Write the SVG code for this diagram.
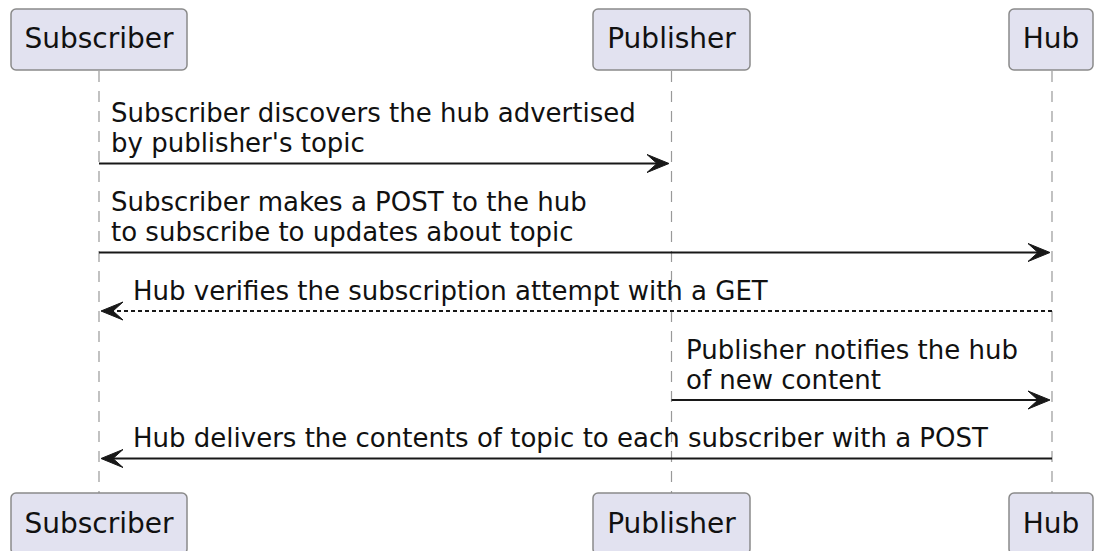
<svg xmlns="http://www.w3.org/2000/svg" width="1096" height="551" viewBox="0 0 1096 551">
<style>
.box{fill:#E2E2F0;stroke:#8a8a8a;stroke-width:1.5}
.pname{font-family:"DejaVu Sans",sans-serif;font-size:28px;fill:#111;text-anchor:middle}
.life{stroke:#999;stroke-width:1.2;stroke-dasharray:11,9;fill:none}
.msg{font-family:"DejaVu Sans",sans-serif;font-size:26px;fill:#111}
.arr{stroke:#181818;stroke-width:2;fill:none}
.dash{stroke-dasharray:4,3}
.head{fill:#181818;stroke:#181818;stroke-width:1}
</style>
<rect width="1096" height="551" fill="#ffffff"/>
<g id="lifelines">
<line class="life" x1="99" y1="71" x2="99" y2="493"/>
<line class="life" x1="671.5" y1="71" x2="671.5" y2="493"/>
<line class="life" x1="1052" y1="71" x2="1052" y2="493"/>
</g>
<g id="subscriber">
<rect class="box" x="11" y="9" width="176" height="61" rx="5"/>
<text class="pname" x="99" y="48">Subscriber</text>
<rect class="box" x="11" y="493" width="176" height="61" rx="5"/>
<text class="pname" x="99" y="533">Subscriber</text>
</g>
<g id="publisher">
<rect class="box" x="593" y="9" width="157" height="61" rx="5"/>
<text class="pname" x="671.5" y="48">Publisher</text>
<rect class="box" x="593" y="493" width="157" height="61" rx="5"/>
<text class="pname" x="671.5" y="533">Publisher</text>
</g>
<g id="hub">
<rect class="box" x="1009" y="9" width="84" height="61" rx="5"/>
<text class="pname" x="1051" y="48">Hub</text>
<rect class="box" x="1009" y="493" width="84" height="61" rx="5"/>
<text class="pname" x="1051" y="533">Hub</text>
</g>
<g id="connectors">
<line class="arr" x1="99" y1="163.5" x2="664" y2="163.5"/>
<polygon class="head" points="647,154.5 669,163.5 647,172.5 657,163.5"/>
<line class="arr" x1="99" y1="252.5" x2="1045" y2="252.5"/>
<polygon class="head" points="1028,243.5 1050,252.5 1028,261.5 1038,252.5"/>
<line class="arr dash" x1="1052" y1="311" x2="106" y2="311"/>
<polygon class="head" points="123,302 101,311 123,320 113,311"/>
<line class="arr" x1="671.5" y1="400" x2="1045" y2="400"/>
<polygon class="head" points="1028,391 1050,400 1028,409 1038,400"/>
<line class="arr" x1="1052" y1="458.5" x2="106" y2="458.5"/>
<polygon class="head" points="123,449.5 101,458.5 123,467.5 113,458.5"/>
</g>
<g id="labels">
<text class="msg" x="111" y="122">Subscriber discovers the hub advertised</text>
<text class="msg" x="111" y="152">by publisher's topic</text>
<text class="msg" x="111" y="211">Subscriber makes a POST to the hub</text>
<text class="msg" x="111" y="241">to subscribe to updates about topic</text>
<text class="msg" x="133" y="300">Hub verifies the subscription attempt with a GET</text>
<text class="msg" x="686" y="359">Publisher notifies the hub</text>
<text class="msg" x="686" y="389">of new content</text>
<text class="msg" x="133" y="447">Hub delivers the contents of topic to each subscriber with a POST</text>
</g>
</svg>
